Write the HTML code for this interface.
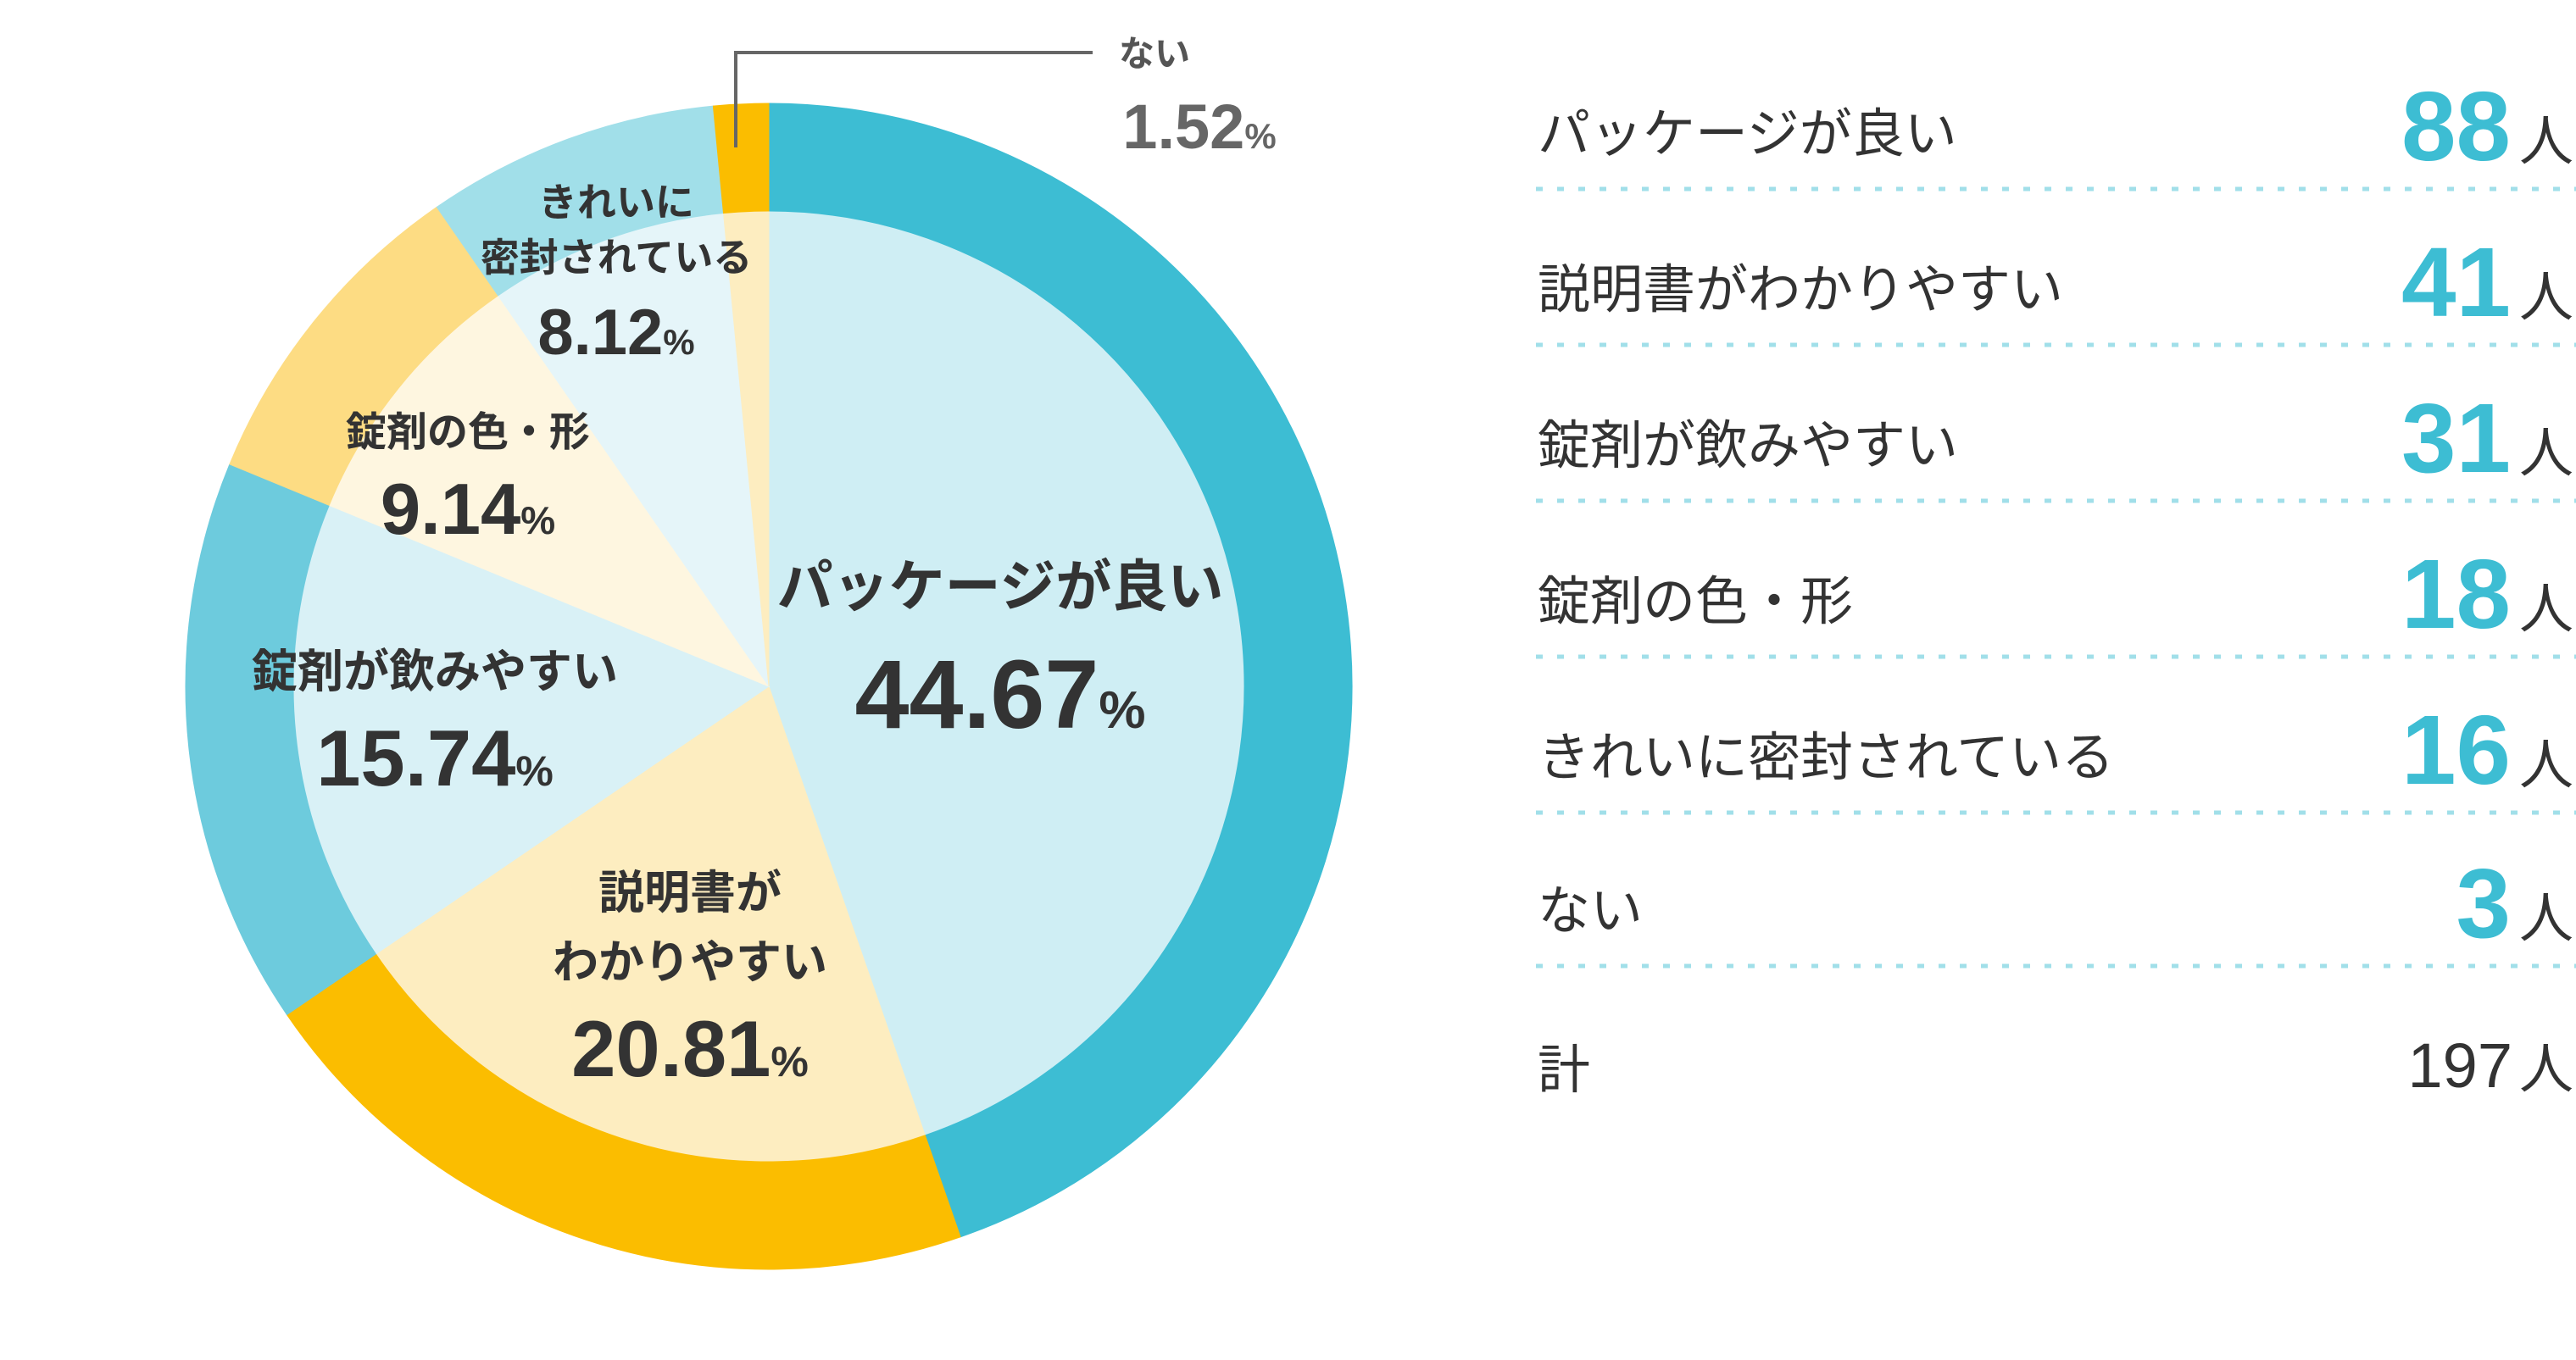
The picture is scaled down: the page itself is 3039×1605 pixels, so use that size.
<!DOCTYPE html>
<html><head><meta charset="utf-8"><style>
html,body{margin:0;padding:0;background:#fff}
svg{display:block}
text{font-family:"Liberation Sans","Noto Sans CJK JP",sans-serif}
.lb{font-weight:bold;fill:#333}
</style></head><body>
<svg id="s" width="3039" height="1605" viewBox="0 0 3039 1605" xmlns="http://www.w3.org/2000/svg">
<g id="pie"></g>
<line x1="868" y1="174" x2="868" y2="62" stroke="#666" stroke-width="4"/>
<line x1="866" y1="62" x2="1289" y2="62" stroke="#666" stroke-width="4"/>
<text x="1362" y="78" font-size="42" fill="#555" font-weight="bold" text-anchor="middle">ない</text>
<text x="1415" y="175" font-size="74" fill="#666" font-weight="bold" text-anchor="middle">1.52<tspan font-size="42">%</tspan></text>

<g class="lb" text-anchor="middle">
<text x="1180" y="715" font-size="66">パッケージが良い</text>
<text x="1180" y="859" font-size="115">44.67<tspan font-size="62">%</tspan></text>
<text x="814" y="1072" font-size="54">説明書が</text>
<text x="814" y="1154" font-size="54">わかりやすい</text>
<text x="814" y="1270" font-size="94">20.81<tspan font-size="50">%</tspan></text>
<text x="513" y="811" font-size="54">錠剤が飲みやすい</text>
<text x="513" y="927" font-size="94">15.74<tspan font-size="50">%</tspan></text>
<text x="552" y="526" font-size="48">錠剤の色・形</text>
<text x="552" y="630" font-size="85">9.14<tspan font-size="46">%</tspan></text>
<text x="727" y="255" font-size="46">きれいに</text>
<text x="727" y="320" font-size="46">密封されている</text>
<text x="727" y="418" font-size="76">8.12<tspan font-size="42">%</tspan></text>
</g>

<g id="tbl"></g>
</svg>
<script>
var cx=907,cy=810,R=688,r=560;
var d=[[44.67,"#3dbdd3","#cfeef4"],[20.81,"#fbbd00","#fdedc0"],[15.74,"#6dcbdd","#d9f1f6"],[9.14,"#fddc83","#fef6e0"],[8.12,"#a1dfe9","#e5f5f9"],[1.52,"#fbbd00","#fdedc0"]];
var g=document.getElementById("pie"),h="",a=0;
function pt(rad,ang){var t=ang/100*2*Math.PI;return [cx+rad*Math.sin(t),cy-rad*Math.cos(t)];}
function wedge(rad,a0,a1,c){var p0=pt(rad,a0),p1=pt(rad,a1),l=(a1-a0)>50?1:0;
return '<path d="M'+cx+' '+cy+' L'+p0[0]+' '+p0[1]+' A'+rad+' '+rad+' 0 '+l+' 1 '+p1[0]+' '+p1[1]+' Z" fill="'+c+'" stroke="'+c+'" stroke-width="1"/>';}
d.forEach(function(e){h+=wedge(R,a,a+e[0],e[1]);a+=e[0];});
a=0;d.forEach(function(e){h+=wedge(r,a,a+e[0],e[2]);a+=e[0];});
g.innerHTML=h;
var rows=[["パッケージが良い","88"],["説明書がわかりやすい","41"],["錠剤が飲みやすい","31"],["錠剤の色・形","18"],["きれいに密封されている","16"],["ない","3"]];
var t="",ys=[155,339,523,707,891,1072];
rows.forEach(function(rw,i){var y=ys[i];
t+='<text x="1814" y="'+(y+24)+'" font-size="62" fill="#333">'+rw[0]+'</text>';
t+='<text x="2962" y="'+(y+34)+'" font-size="116" fill="#3dbdd3" font-weight="bold" text-anchor="end">'+rw[1]+'</text>';
t+='<text x="2972" y="'+(y+34)+'" font-size="64" fill="#333">人</text>';
t+='<line x1="1812" y1="'+(y+68)+'" x2="3039" y2="'+(y+68)+'" stroke="#a1dfe9" stroke-width="5" stroke-dasharray="8 17"/>';});
t+='<text x="1814" y="1284" font-size="62" fill="#333">計</text>';
t+='<text x="2964" y="1283" font-size="74" fill="#333" text-anchor="end">197</text>';
t+='<text x="2972" y="1284" font-size="64" fill="#333">人</text>';
document.getElementById("tbl").innerHTML=t;
</script>
</body></html>
